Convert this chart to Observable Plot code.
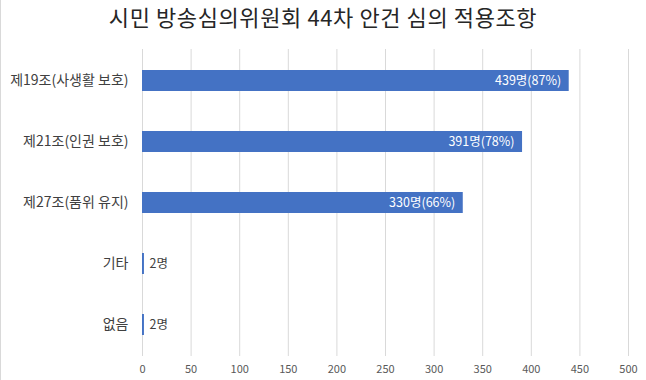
<!DOCTYPE html>
<html>
<head>
<meta charset="utf-8">
<script src="https://cdn.jsdelivr.net/npm/d3@7"></script>
<script src="https://cdn.jsdelivr.net/npm/@observablehq/plot@0.6"></script>
<style>
  html, body { margin: 0; padding: 0; background: #fff; }
  #wrap { position: relative; width: 646px; height: 380px; overflow: hidden; font-family: "Noto Sans CJK KR", "Noto Sans", sans-serif; }
  #edge { position: absolute; left: 0; top: 0; width: 1px; height: 380px; background: #d9d9d9; }
  #title { height: 42px; line-height: 32px; text-align: center; font-size: 22px; letter-spacing: 0.6px; color: #262626; white-space: nowrap; }
  #chart svg { display: block; }
</style>
</head>
<body>
<div id="wrap">
  <div id="edge"></div>
  <div id="title">시민 방송심의위원회 44차 안건 심의 적용조항</div>
  <div id="chart"></div>
</div>
<script>
const categories = ["제19조(사생활 보호)", "제21조(인권 보호)", "제27조(품위 유지)", "기타", "없음"];
const counts = [439, 391, 330, 2, 2];
const percents = [87, 78, 66, null, null];
const xTicks = [0, 50, 100, 150, 200, 250, 300, 350, 400, 450, 500];

const data = categories.map((c, i) => ({
  category: c,
  count: counts[i],
  label: counts[i] + "명" + (percents[i] != null ? "(" + percents[i] + "%)" : ""),
  inside: percents[i] != null
}));

const font = "'Noto Sans CJK KR', 'Noto Sans', sans-serif";

const chart = Plot.plot({
  width: 646,
  height: 338,
  marginTop: 7,
  marginBottom: 24,
  marginLeft: 142,
  marginRight: 18,
  style: { fontFamily: font, background: "transparent" },
  x: { domain: [0, 500], axis: null },
  y: { domain: categories, paddingInner: 0.66, paddingOuter: 0.33, axis: null },
  marks: [
    Plot.gridX(xTicks, { stroke: "#d9d9d9", strokeOpacity: 1, strokeWidth: 1 }),
    Plot.axisX({ ticks: xTicks, tickSize: 0, tickPadding: 9, fontSize: 11, fill: "#595959", label: null }),
    Plot.axisY({ tickSize: 0, tickPadding: 14, fontSize: 14, fill: "#404040", label: null }),
    Plot.barX(data, { x: "count", y: "category", fill: "#4472C4" }),
    Plot.text(data.filter(d => d.inside), { x: "count", y: "category", text: "label", textAnchor: "end", dx: -8, fill: "white", fontSize: 12.5 }),
    Plot.text(data.filter(d => !d.inside), { x: "count", y: "category", text: "label", textAnchor: "start", dx: 5, fill: "#404040", fontSize: 12.5 })
  ]
});
document.getElementById("chart").appendChild(chart);
</script>
</body>
</html>
